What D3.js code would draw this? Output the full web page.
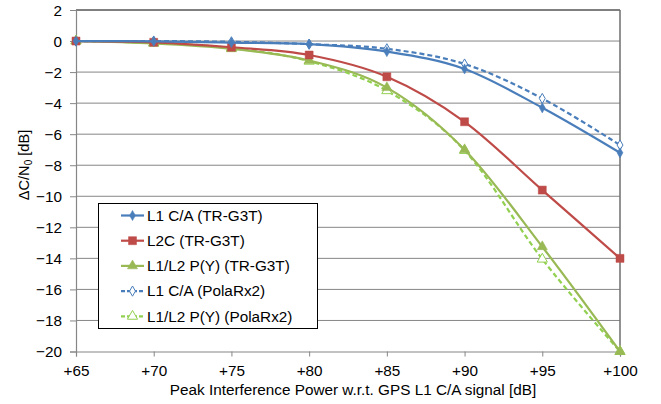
<!DOCTYPE html>
<html>
<head>
<meta charset="utf-8">
<script src="https://cdn.jsdelivr.net/npm/d3@7"></script>
<style>
  body { margin: 0; background: #fff; }
  text { font-family: "Liberation Sans", Arial, sans-serif; fill: #000; }
</style>
</head>
<body>
<div id="chart"></div>
<script>
// peak interference power (dB w.r.t. GPS L1 C/A)
const powers = [65, 70, 75, 80, 85, 90, 95, 100];
const xTickLabels = ["+65", "+70", "+75", "+80", "+85", "+90", "+95", "+100"];
const yTicks = [2, 0, -2, -4, -6, -8, -10, -12, -14, -16, -18, -20];

// delta C/N0 values [dB]
const l1caTR = [0, -0.02, -0.1, -0.2, -0.68, -1.8, -4.3, -7.2];
const l2cTR = [0, -0.08, -0.4, -0.9, -2.3, -5.2, -9.6, -14.0];
const l1l2TR = [0, -0.15, -0.5, -1.25, -3.0, -7.0, -13.25, -20.0];
const l1caPola = [0, 0, -0.05, -0.2, -0.5, -1.48, -3.7, -6.7];
const l1l2Pola = [0, -0.12, -0.45, -1.3, -3.2, -7.05, -14.05, -20.0];

const series = [
  { name: "L1 C/A (TR-G3T)", values: l1caTR, color: "#4a7ebb", dash: null, marker: "diamond", fill: true },
  { name: "L2C (TR-G3T)", values: l2cTR, color: "#be4b48", dash: null, marker: "square", fill: true },
  { name: "L1/L2 P(Y) (TR-G3T)", values: l1l2TR, color: "#98b954", dash: null, marker: "triangle", fill: true },
  { name: "L1 C/A (PolaRx2)", values: l1caPola, color: "#4a7ebb", dash: "5,3", marker: "diamond", fill: false },
  { name: "L1/L2 P(Y) (PolaRx2)", values: l1l2Pola, color: "#92d050", dash: "5,3", marker: "triangle", fill: false }
];

const width = 661, height = 404;
const margin = { top: 10, right: 41, bottom: 52.5, left: 76 };
const fontSize = 15.3;

const svg = d3.select("#chart").append("svg")
  .attr("width", width)
  .attr("height", height);

const x = d3.scaleLinear().domain([65, 100]).range([margin.left, width - margin.right]);
const y = d3.scaleLinear().domain([-20, 2]).range([height - margin.bottom, margin.top]);

// gridlines
svg.append("g")
  .selectAll("line")
  .data(yTicks.filter(d => d !== -20 && d !== 2))
  .join("line")
  .attr("x1", x(65)).attr("x2", x(100))
  .attr("y1", d => y(d)).attr("y2", d => y(d))
  .attr("stroke", "#868686").attr("stroke-width", 1);

// plot border: top and right
svg.append("line")
  .attr("x1", x(65)).attr("x2", x(100))
  .attr("y1", y(2)).attr("y2", y(2))
  .attr("stroke", "#000").attr("stroke-width", 1);
svg.append("line")
  .attr("x1", x(100)).attr("x2", x(100))
  .attr("y1", y(2)).attr("y2", y(-20))
  .attr("stroke", "#6e6e6e").attr("stroke-width", 1.5);

// axes
const yAxis = svg.append("g")
  .attr("transform", "translate(" + x(65) + ",0)")
  .call(d3.axisLeft(y).tickValues(yTicks).tickSize(6).tickPadding(8).tickFormat(d3.format("d")));
const xAxis = svg.append("g")
  .attr("transform", "translate(0," + y(-20) + ")")
  .call(d3.axisBottom(x).tickValues(powers).tickSize(5).tickPadding(8.5)
    .tickFormat((d, i) => xTickLabels[i]));

[xAxis, yAxis].forEach(a => {
  a.select(".domain").attr("stroke", "#868686").attr("stroke-width", 1.2);
  a.selectAll(".tick line").attr("stroke", "#868686");
  a.selectAll(".tick text").attr("font-size", fontSize).attr("font-family", "Liberation Sans, Arial, sans-serif").attr("fill", "#000");
});
yAxis.selectAll(".tick text").attr("dy", "0.35em");

// axis titles
svg.append("text")
  .attr("x", 353).attr("y", 395)
  .attr("text-anchor", "middle").attr("font-size", fontSize)
  .text("Peak Interference Power w.r.t. GPS L1 C/A signal [dB]");

const yt = svg.append("text")
  .attr("transform", "translate(28.5,165) rotate(-90)")
  .attr("text-anchor", "middle").attr("font-size", 14.6);
yt.append("tspan").text("\u0394C/N");
yt.append("tspan").attr("font-size", 10).attr("dy", 3).text("0");
yt.append("tspan").attr("dy", -3).text(" [dB]");

const line = d3.line()
  .x((d, i) => x(powers[i]))
  .y(d => y(d))
  .curve(d3.curveCatmullRom.alpha(0));

function drawMarker(g, type, cx, cy, s, fill) {
  let p;
  if (type === "diamond") p = d3.symbol(d3.symbolDiamond, 30)();
  else if (type === "square") p = d3.symbol(d3.symbolSquare, 64)();
  else p = d3.symbol(d3.symbolTriangle, 45)();
  g.append("path")
    .attr("d", p)
    .attr("transform", "translate(" + cx + "," + cy + ")")
    .attr("fill", fill ? s.color : "#fff")
    .attr("stroke", s.color)
    .attr("stroke-width", fill ? 0.5 : 1);
}

// draw series in reverse so solid ones sit on top
series.slice().reverse().forEach(s => {
  const g = svg.append("g");
  g.append("path")
    .attr("d", line(s.values))
    .attr("fill", "none")
    .attr("stroke", s.color)
    .attr("stroke-width", 2.2)
    .attr("stroke-dasharray", s.dash);
  s.values.forEach((v, i) => drawMarker(g, s.marker, x(powers[i]), y(v), s, s.fill));
});

// legend
const lg = svg.append("g");
lg.append("rect")
  .attr("x", 98.5).attr("y", 203.5).attr("width", 219).attr("height", 125)
  .attr("fill", "#fff").attr("stroke", "#000").attr("stroke-width", 1);
series.forEach((s, i) => {
  const ly = 215.5 + i * 25.2;
  lg.append("line")
    .attr("x1", 121).attr("x2", 144).attr("y1", ly).attr("y2", ly)
    .attr("stroke", s.color).attr("stroke-width", 2.2)
    .attr("stroke-dasharray", s.dash ? "4,2" : null);
  drawMarker(lg, s.marker, 132.5, ly, s, s.fill);
  lg.append("text")
    .attr("x", 147).attr("y", ly).attr("dy", "0.35em")
    .attr("font-size", fontSize)
    .text(s.name);
});
</script>
</body>
</html>
